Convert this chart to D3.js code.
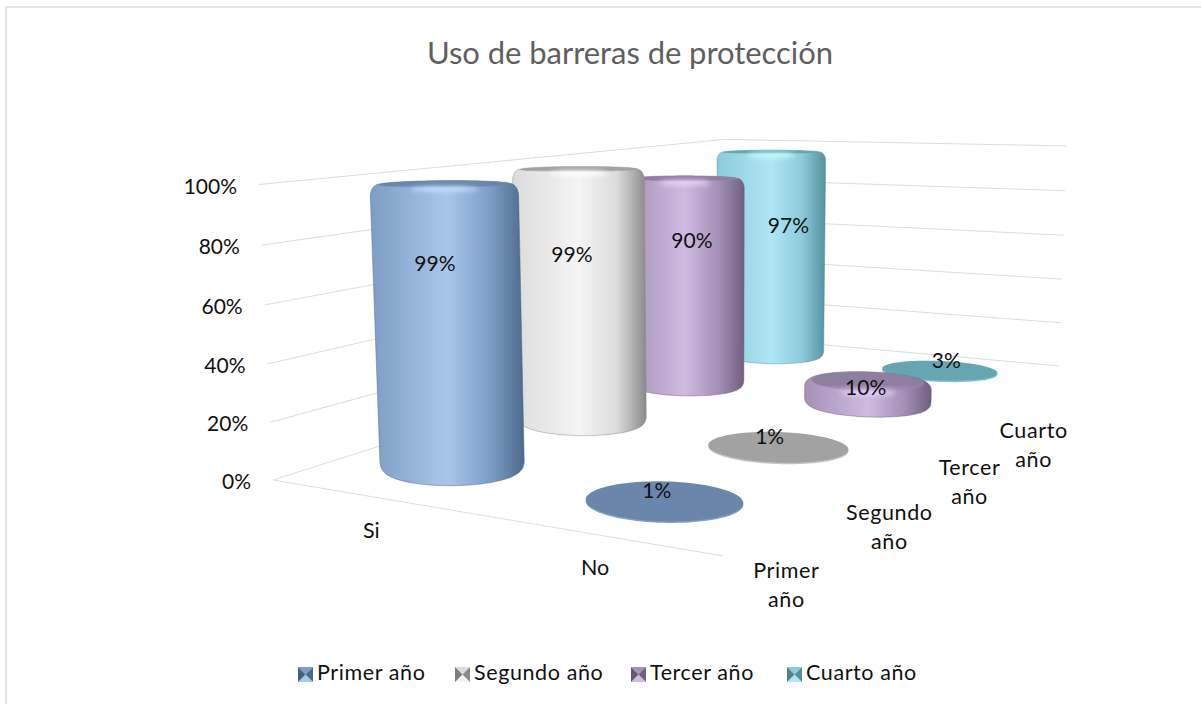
<!DOCTYPE html>
<html><head><meta charset="utf-8">
<script src="https://cdnjs.cloudflare.com/ajax/libs/d3/7.8.5/d3.min.js"></script>
<style>html,body{margin:0;background:#fff}svg{display:block}text{font-family:Lato,"Open Sans",sans-serif;fill:#111}</style>
</head><body><div id="c"></div>
<script>
const title = "Uso de barreras de protección";
const categories = ["Si", "No"];
const seriesNames = ["Primer año", "Segundo año", "Tercer año", "Cuarto año"];
const primer = [99, 1];
const segundo = [99, 1];
const tercer = [90, 10];
const cuarto = [97, 3];
const yTicks = [0, 20, 40, 60, 80, 100];
const seriesValues = [primer, segundo, tercer, cuarto];
const palette = [
  {dark:"#4d6a8c", mid:"#7d9dc6", light:"#a9c6ea", cap:"#6a87ab"},
  {dark:"#8a8a8a", mid:"#dcdcdc", light:"#f4f4f4", cap:"#a2a2a2"},
  {dark:"#6f5f80", mid:"#a491b8", light:"#cdbbe0", cap:"#8f7f9f"},
  {dark:"#55909e", mid:"#8ccbda", light:"#aee6f5", cap:"#68a5b3"}
];

const W = 1201, H = 704;
const svg = d3.select("#c").append("svg").attr("width", W).attr("height", H);
const defs = svg.append("defs");
defs.append("filter").attr("id","soft").attr("x","-20%").attr("y","-150%").attr("width","140%").attr("height","400%")
  .append("feGaussianBlur").attr("stdDeviation",2.4);

// frame
svg.append("path").attr("d","M6 704V7H1201").attr("fill","none").attr("stroke","#e2e2e2").attr("stroke-width",2);

// band scales in chart space, projective camera onto the page
const axisU = d3.scaleBand().domain(categories).range([0,1]);
const uScale = d3.scaleBand().domain(categories).range([0.012,0.995]);
const vScale = d3.scaleBand().domain(seriesNames).range([0,1.01]);
const wScale = d3.scaleLinear().domain([0,100]).range([0,1]);
const uMid = c => uScale(c)+uScale.bandwidth()/2;
const vMid = s => vScale(s)+vScale.bandwidth()/2;
function project(u,v,w){
  const d = 1 - 0.1616*u + 0.5099*v - 0.03*w;
  return [(273 + 333.2*u + 821.7*v - 21.75*w)/d,
          (480 - 13.9*u + 27.3*v - 301*w)/d];
}
const RU = 0.15, RV = 0.07;
const angles = d3.range(0, 2*Math.PI, Math.PI/48);
function ring(uc,vc,w,k,flat){
  const c = project(uc,vc,w);
  return angles.map(a=>{
    const p = project(uc+RU*k*Math.cos(a), vc+RV*k*Math.sin(a), w);
    return [p[0], c[1]+(p[1]-c[1])*flat + w];
  });
}
const lineC = d3.line().curve(d3.curveLinearClosed);

// walls + floor gridlines
const grid = svg.append("g").attr("fill","none").attr("stroke","#dcdcdc").attr("stroke-width",1);
yTicks.forEach(t=>{
  const w = wScale(t);
  grid.append("path").attr("d", d3.line()([project(0,0,w),project(0,1,w),project(1,1,w)]));
});
grid.append("path").attr("d", d3.line()([project(0,0,0),project(1,0,0)]));

// axis labels
const FS = 21, FW = 21.5, LS = 0.6;
yTicks.forEach(t=>{
  const p = project(0,0,wScale(t));
  svg.append("text").attr("x",p[0]-22).attr("y",p[1]+9).attr("text-anchor","end").attr("font-size",FS).text(t+"%");
});
categories.forEach(c=>{
  const p = project(axisU(c)+axisU.bandwidth()/2,0,0);
  svg.append("text").attr("x",p[0]).attr("y",p[1]+41).attr("text-anchor","middle").attr("font-size",FW).text(c);
});
seriesNames.forEach(s=>{
  const p = project(1,vMid(s),0);
  const [a,b] = s.split(" ");
  const t = svg.append("text").attr("text-anchor","middle").attr("font-size",FW).attr("letter-spacing",LS);
  t.append("tspan").attr("x",p[0]).attr("y",p[1]+58).text(a);
  t.append("tspan").attr("x",p[0]).attr("y",p[1]+87).text(b);
});

// cylinders, back to front
const marks = svg.append("g");
let gid = 0;
const bevelSteps = d3.range(0, 1.01, 1/6);
function cylinder(uc,vc,val,col){
  const w = wScale(val);
  const g = marks.append("g");
  const flat = 1 - 0.2*w;
  const base = ring(uc,vc,0,1,1);
  if (val <= 3) {                 // a flat disc
    g.append("path").attr("d",lineC(base)).attr("transform","translate(0,0.5)")
      .attr("fill",d3.interpolateRgb(col.cap,col.light)(0.4));
    g.append("path").attr("d",lineC(base)).attr("transform","translate(0,-1)").attr("fill",col.cap);
    return;
  }
  const bevel = Math.min(0.04, w*0.25), footB = Math.min(bevel,0.03);
  const pts = [];
  bevelSteps.forEach(t=>{
    const a = t*Math.PI/2;
    const k = 1 - 0.11*(1-Math.cos(a));
    pts.push(...ring(uc,vc,w-bevel*(1-Math.sin(a)),k,flat));
    pts.push(...ring(uc,vc,footB*(1-Math.sin(a)),1-0.08*(1-Math.cos(a)),1));
  });
  const cap = ring(uc,vc,w,0.89,flat);
  const hull = d3.polygonHull(pts);
  const xs = d3.extent(hull,d=>d[0]);
  const id = "g"+(gid++);
  const lg = defs.append("linearGradient").attr("id",id).attr("gradientUnits","userSpaceOnUse")
    .attr("x1",xs[0]).attr("x2",xs[1]).attr("y1",0).attr("y2",0);
  [[0,col.mid],[0.5,col.light],[0.78,col.mid],[1,col.dark]].forEach(s=>
    lg.append("stop").attr("offset",s[0]).attr("stop-color",s[1]));
  g.append("path").attr("d",lineC(hull)).attr("fill",`url(#${id})`).attr("stroke",col.dark).attr("stroke-width",0.8).attr("stroke-opacity",0.6);
  // top face fades into the side
  const ys = d3.extent(cap,d=>d[1]);
  const cid = "c"+id;
  const cg = defs.append("linearGradient").attr("id",cid).attr("gradientUnits","userSpaceOnUse")
    .attr("x1",0).attr("x2",0).attr("y1",ys[0]).attr("y2",ys[1]);
  cg.append("stop").attr("offset",0).attr("stop-color",col.cap);
  cg.append("stop").attr("offset",0.65).attr("stop-color",col.cap);
  cg.append("stop").attr("offset",1).attr("stop-color",col.mid).attr("stop-opacity",0.4);
  g.append("path").attr("d",lineC(cap)).attr("fill",`url(#${cid})`);
  // highlight below the top face
  g.append("ellipse")
    .attr("cx",d3.mean(cap,d=>d[0])).attr("cy",ys[1]+1)
    .attr("rx",(xs[1]-xs[0])*0.22).attr("ry",2.6)
    .attr("fill",d3.color(col.light).brighter(0.35)).attr("filter","url(#soft)");
}
const order = d3.range(seriesNames.length).reverse();
order.forEach(i=>{
  categories.forEach((c,j)=>cylinder(uMid(c), vMid(seriesNames[i]), seriesValues[i][j], palette[i]));
});

// data labels
const depthMids = [0.125,0.375,0.625,0.875];
const labelShift = {
  Si: d3.scaleLinear().domain(depthMids).range([-8,-3,12,23]),
  No: d3.scaleLinear().domain(depthMids).range([-7,-7,0,9])
};
const labelLift = d3.scaleLinear().domain(depthMids).range([0.725,0.665,0.695,0.63]);
order.forEach(i=>{
  categories.forEach((c,j)=>{
    const uc = axisU(c)+axisU.bandwidth()/2, vc = depthMids[i];
    const val = seriesValues[i][j];
    const p = project(uc,vc,Math.max(0,wScale(val)*labelLift(vc)-0.04));
    svg.append("text").attr("x",p[0]+labelShift[c](vc)).attr("y",p[1]-4)
      .attr("text-anchor","middle").attr("font-size",FS).text(val+"%");
  });
});

// title
svg.append("text").attr("x",630).attr("y",64).attr("text-anchor","middle")
  .attr("font-size",31).attr("textLength",406).attr("lengthAdjust","spacing")
  .style("fill","#5f5f5f").text(title);

// legend
const legendX = d3.scaleOrdinal().domain(seriesNames).range([298,455,631,787]);
seriesNames.forEach((s,i)=>{
  const x = legendX(s), y = 667, z = 15, col = palette[i];
  const c = [x+z/2,y+z/2], k = svg.append("g");
  const tri = (a,b,f)=>k.append("path").attr("d",lineC([a,b,c])).attr("fill",f);
  tri([x,y],[x+z,y],col.mid);
  tri([x,y+z],[x+z,y+z],col.light);
  tri([x,y],[x,y+z],d3.color(col.dark).darker(0.3));
  tri([x+z,y],[x+z,y+z],col.dark);
  svg.append("text").attr("x",x+19).attr("y",680).attr("font-size",FW).attr("letter-spacing",LS).text(s);
});
</script></body></html>
